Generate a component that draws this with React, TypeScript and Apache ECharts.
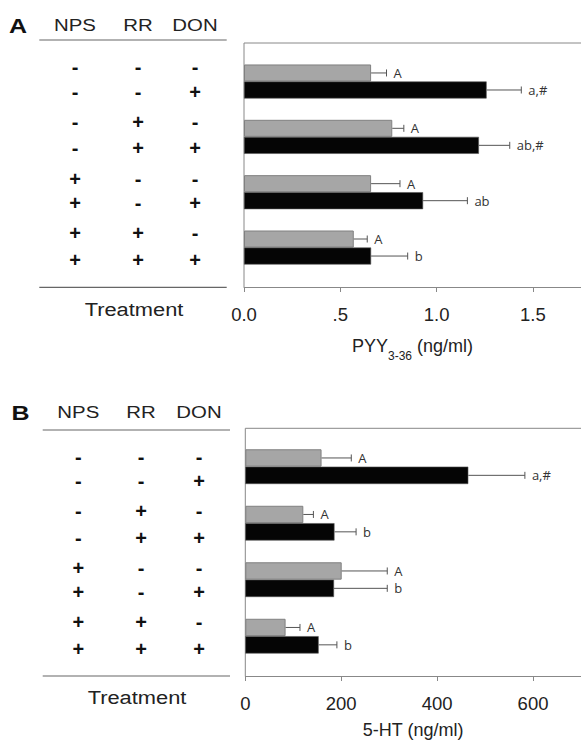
import React, { useEffect, useRef } from "react";
import * as echarts from "echarts";

// ---------- data ----------
const categories = ["NPS-/RR-", "NPS-/RR+", "NPS+/RR-", "NPS+/RR+"];

const pyyControl = [0.66, 0.77, 0.66, 0.57];
const pyyControlErr = [0.08, 0.06, 0.15, 0.07];
const pyyControlLabels = ["A", "A", "A", "A"];
const pyyDon = [1.26, 1.22, 0.93, 0.66];
const pyyDonErr = [0.18, 0.16, 0.23, 0.19];
const pyyDonLabels = ["a,#", "ab,#", "ab", "b"];

const htControl = [159, 121, 201, 84];
const htControlErr = [62, 21, 95, 30];
const htControlLabels = ["A", "A", "A", "A"];
const htDon = [465, 186, 185, 153];
const htDonErr = [118, 45, 111, 38];
const htDonLabels = ["a,#", "b", "b", "b"];

const tableHeaders = ["NPS", "RR", "DON"];
const npsRows = ["-", "-", "-", "-", "+", "+", "+", "+"];
const rrRows = ["-", "-", "+", "+", "-", "-", "+", "+"];
const donRows = ["-", "+", "-", "+", "-", "+", "-", "+"];

const pyyTicks = { min: 0, max: 1.75, interval: 0.5 };
const htTicks = { min: 0, max: 700, interval: 200 };

// ---------- layout ----------
const FONT = "Liberation Sans, Arial, sans-serif";
const LBL_FONT = "Open Sans, Liberation Sans, sans-serif";

function errRender(labels: string[], sign: number) {
  return (params: any, api: any) => {
    const cat = api.value(0);
    const val = api.value(1);
    const err = api.value(2);
    const band = api.size([0, 1])[1];
    const off = sign * band * 0.15375;
    const p0 = api.coord([val, cat]);
    const p1 = api.coord([val + err, cat]);
    const y = p0[1] + off;
    const cap = 3.5;
    const st = { stroke: "#555", lineWidth: 1 };
    return {
      type: "group",
      children: [
        { type: "line", shape: { x1: p0[0], y1: y, x2: p1[0], y2: y }, style: st },
        { type: "line", shape: { x1: p1[0], y1: y - cap, x2: p1[0], y2: y + cap }, style: st },
        {
          type: "text",
          x: p1[0] + 7,
          y: y,
          style: {
            text: labels[params.dataIndex],
            fill: "#333",
            fontSize: 13,
            fontFamily: LBL_FONT,
            align: "left",
            verticalAlign: "middle",
          },
        },
      ],
    };
  };
}

function tableGraphics(
  letter: string,
  letterX: number,
  letterY: number,
  headY: number,
  colX: number[],
  lineX: [number, number],
  topLineY: number,
  bottomLineY: number,
  rowY: number[],
  treatX: number,
  treatY: number
) {
  const els: any[] = [];
  els.push({
    type: "text",
    x: letterX,
    y: letterY,
    scaleX: 1.25,
    style: { text: letter, fontSize: 20, fontWeight: "bold", fontFamily: FONT, fill: "#111", align: "left", verticalAlign: "middle" },
  });
  tableHeaders.forEach((h, i) => {
    els.push({
      type: "text",
      x: colX[i],
      y: headY,
      scaleX: 1.2,
      style: { text: h, fontSize: 17, fontFamily: FONT, fill: "#222", align: "center", verticalAlign: "middle" },
    });
  });
  els.push({ type: "line", shape: { x1: lineX[0], y1: topLineY, x2: lineX[1], y2: topLineY }, style: { stroke: "#666", lineWidth: 1.2 } });
  els.push({ type: "line", shape: { x1: lineX[0], y1: bottomLineY, x2: lineX[1], y2: bottomLineY }, style: { stroke: "#666", lineWidth: 1.2 } });
  [npsRows, rrRows, donRows].forEach((col, c) => {
    col.forEach((s, r) => {
      els.push({
        type: "text",
        x: colX[c],
        y: rowY[r],
        style: { text: s, fontSize: 20, fontWeight: "bold", fontFamily: FONT, fill: "#111", align: "center", verticalAlign: "middle" },
      });
    });
  });
  els.push({
    type: "text",
    x: treatX,
    y: treatY,
    scaleX: 1.15,
    style: { text: "Treatment", fontSize: 19, fontFamily: FONT, fill: "#222", align: "center", verticalAlign: "middle" },
  });
  return els;
}

export default function App() {
  const ref = useRef<HTMLDivElement>(null);
  useEffect(() => {
    if (!ref.current) return;
    const chart = echarts.init(ref.current, undefined, { renderer: "svg" });

    const axisCommon = {
      type: "value",
      splitLine: { show: false },
      axisLine: { show: true, lineStyle: { color: "#888", width: 1 } },
      axisTick: { show: true, length: 5, lineStyle: { color: "#888" } },
      nameLocation: "middle",
    };

    const gridA = { left: 244, top: 53.8, height: 221.4, right: -3.7 };
    const gridB = { left: 245.3, top: 438.4, height: 226, right: -1.1 };

    const graphics: any[] = [
      // frames
      { type: "line", shape: { x1: 244, y1: 43, x2: 244, y2: 287 }, style: { stroke: "#888", lineWidth: 1 } },
      { type: "line", shape: { x1: 244, y1: 43, x2: 581, y2: 43 }, style: { stroke: "#888", lineWidth: 1 } },
      { type: "line", shape: { x1: 245.3, y1: 428.3, x2: 245.3, y2: 676 }, style: { stroke: "#888", lineWidth: 1 } },
      { type: "line", shape: { x1: 245.3, y1: 428.3, x2: 581, y2: 428.3 }, style: { stroke: "#888", lineWidth: 1 } },
      ...tableGraphics("A", 9, 26.7, 25.5, [75, 138, 195], [39.3, 226.7], 40, 287.3,
        [67, 92, 122, 148, 179, 203, 233, 260], 134, 309),
      ...tableGraphics("B", 11.5, 413.3, 412.3, [78.3, 141, 199], [42.7, 230], 430, 676,
        [457, 481, 511, 538, 568, 592, 622, 649], 137, 696.7),
    ];

    const barCommon = {
      type: "bar",
      barGap: "0%",
      barCategoryGap: "38.5%",
    };
    const grayStyle = { color: "#a6a6a6", borderColor: "#808080", borderWidth: 1 };
    const blackStyle = { color: "#050505", borderColor: "#555", borderWidth: 0.6 };

    chart.setOption({
      animation: false,
      backgroundColor: "#ffffff",
      grid: [gridA, gridB],
      xAxis: [
        {
          ...axisCommon,
          gridIndex: 0,
          min: pyyTicks.min,
          max: pyyTicks.max,
          interval: pyyTicks.interval,
          offset: 11.8,
          axisLabel: {
            fontSize: 18.5,
            fontFamily: FONT,
            color: "#222",
            margin: 18,
            showMaxLabel: false,
            formatter: (v: number) => (v === 0 ? "0.0" : v.toFixed(1).replace(/^0\./, ".")),
          },
          name: "{m|PYY}{s|3-36}{m| (ng/ml)}",
          nameGap: 50,
          nameTextStyle: {
            rich: {
              m: { fontSize: 18, fontFamily: FONT, color: "#222", lineHeight: 20, verticalAlign: "top" },
              s: { fontSize: 12, fontFamily: FONT, color: "#222", lineHeight: 12, padding: [13, 0, 0, 0], verticalAlign: "top" },
            },
          },
        },
        {
          ...axisCommon,
          gridIndex: 1,
          min: htTicks.min,
          max: htTicks.max,
          interval: htTicks.interval,
          offset: 11.6,
          axisLabel: {
            fontSize: 18.5,
            fontFamily: FONT,
            color: "#222",
            margin: 18,
            showMaxLabel: false,
          },
          name: "5-HT (ng/ml)",
          nameGap: 45,
          nameTextStyle: { fontSize: 18, fontFamily: FONT, color: "#222" },
        },
      ],
      yAxis: [
        { type: "category", gridIndex: 0, data: categories, inverse: true, show: false },
        { type: "category", gridIndex: 1, data: categories, inverse: true, show: false },
      ],
      graphic: graphics,
      series: [
        { ...barCommon, name: "PYY control", xAxisIndex: 0, yAxisIndex: 0, data: pyyControl, itemStyle: grayStyle },
        { ...barCommon, name: "PYY DON", xAxisIndex: 0, yAxisIndex: 0, data: pyyDon, itemStyle: blackStyle },
        { ...barCommon, name: "5-HT control", xAxisIndex: 1, yAxisIndex: 1, data: htControl, itemStyle: grayStyle },
        { ...barCommon, name: "5-HT DON", xAxisIndex: 1, yAxisIndex: 1, data: htDon, itemStyle: blackStyle },
        {
          type: "custom", xAxisIndex: 0, yAxisIndex: 0, z: 5,
          encode: { x: 1, y: 0 },
          data: pyyControl.map((v, i) => [i, v, pyyControlErr[i]]),
          renderItem: errRender(pyyControlLabels, -1),
        },
        {
          type: "custom", xAxisIndex: 0, yAxisIndex: 0, z: 5,
          encode: { x: 1, y: 0 },
          data: pyyDon.map((v, i) => [i, v, pyyDonErr[i]]),
          renderItem: errRender(pyyDonLabels, 1),
        },
        {
          type: "custom", xAxisIndex: 1, yAxisIndex: 1, z: 5,
          encode: { x: 1, y: 0 },
          data: htControl.map((v, i) => [i, v, htControlErr[i]]),
          renderItem: errRender(htControlLabels, -1),
        },
        {
          type: "custom", xAxisIndex: 1, yAxisIndex: 1, z: 5,
          encode: { x: 1, y: 0 },
          data: htDon.map((v, i) => [i, v, htDonErr[i]]),
          renderItem: errRender(htDonLabels, 1),
        },
      ],
    });
    return () => chart.dispose();
  }, []);
  return <div ref={ref} style={{ position: "fixed", left: 0, top: 0, width: 581, height: 748 }} />;
}
